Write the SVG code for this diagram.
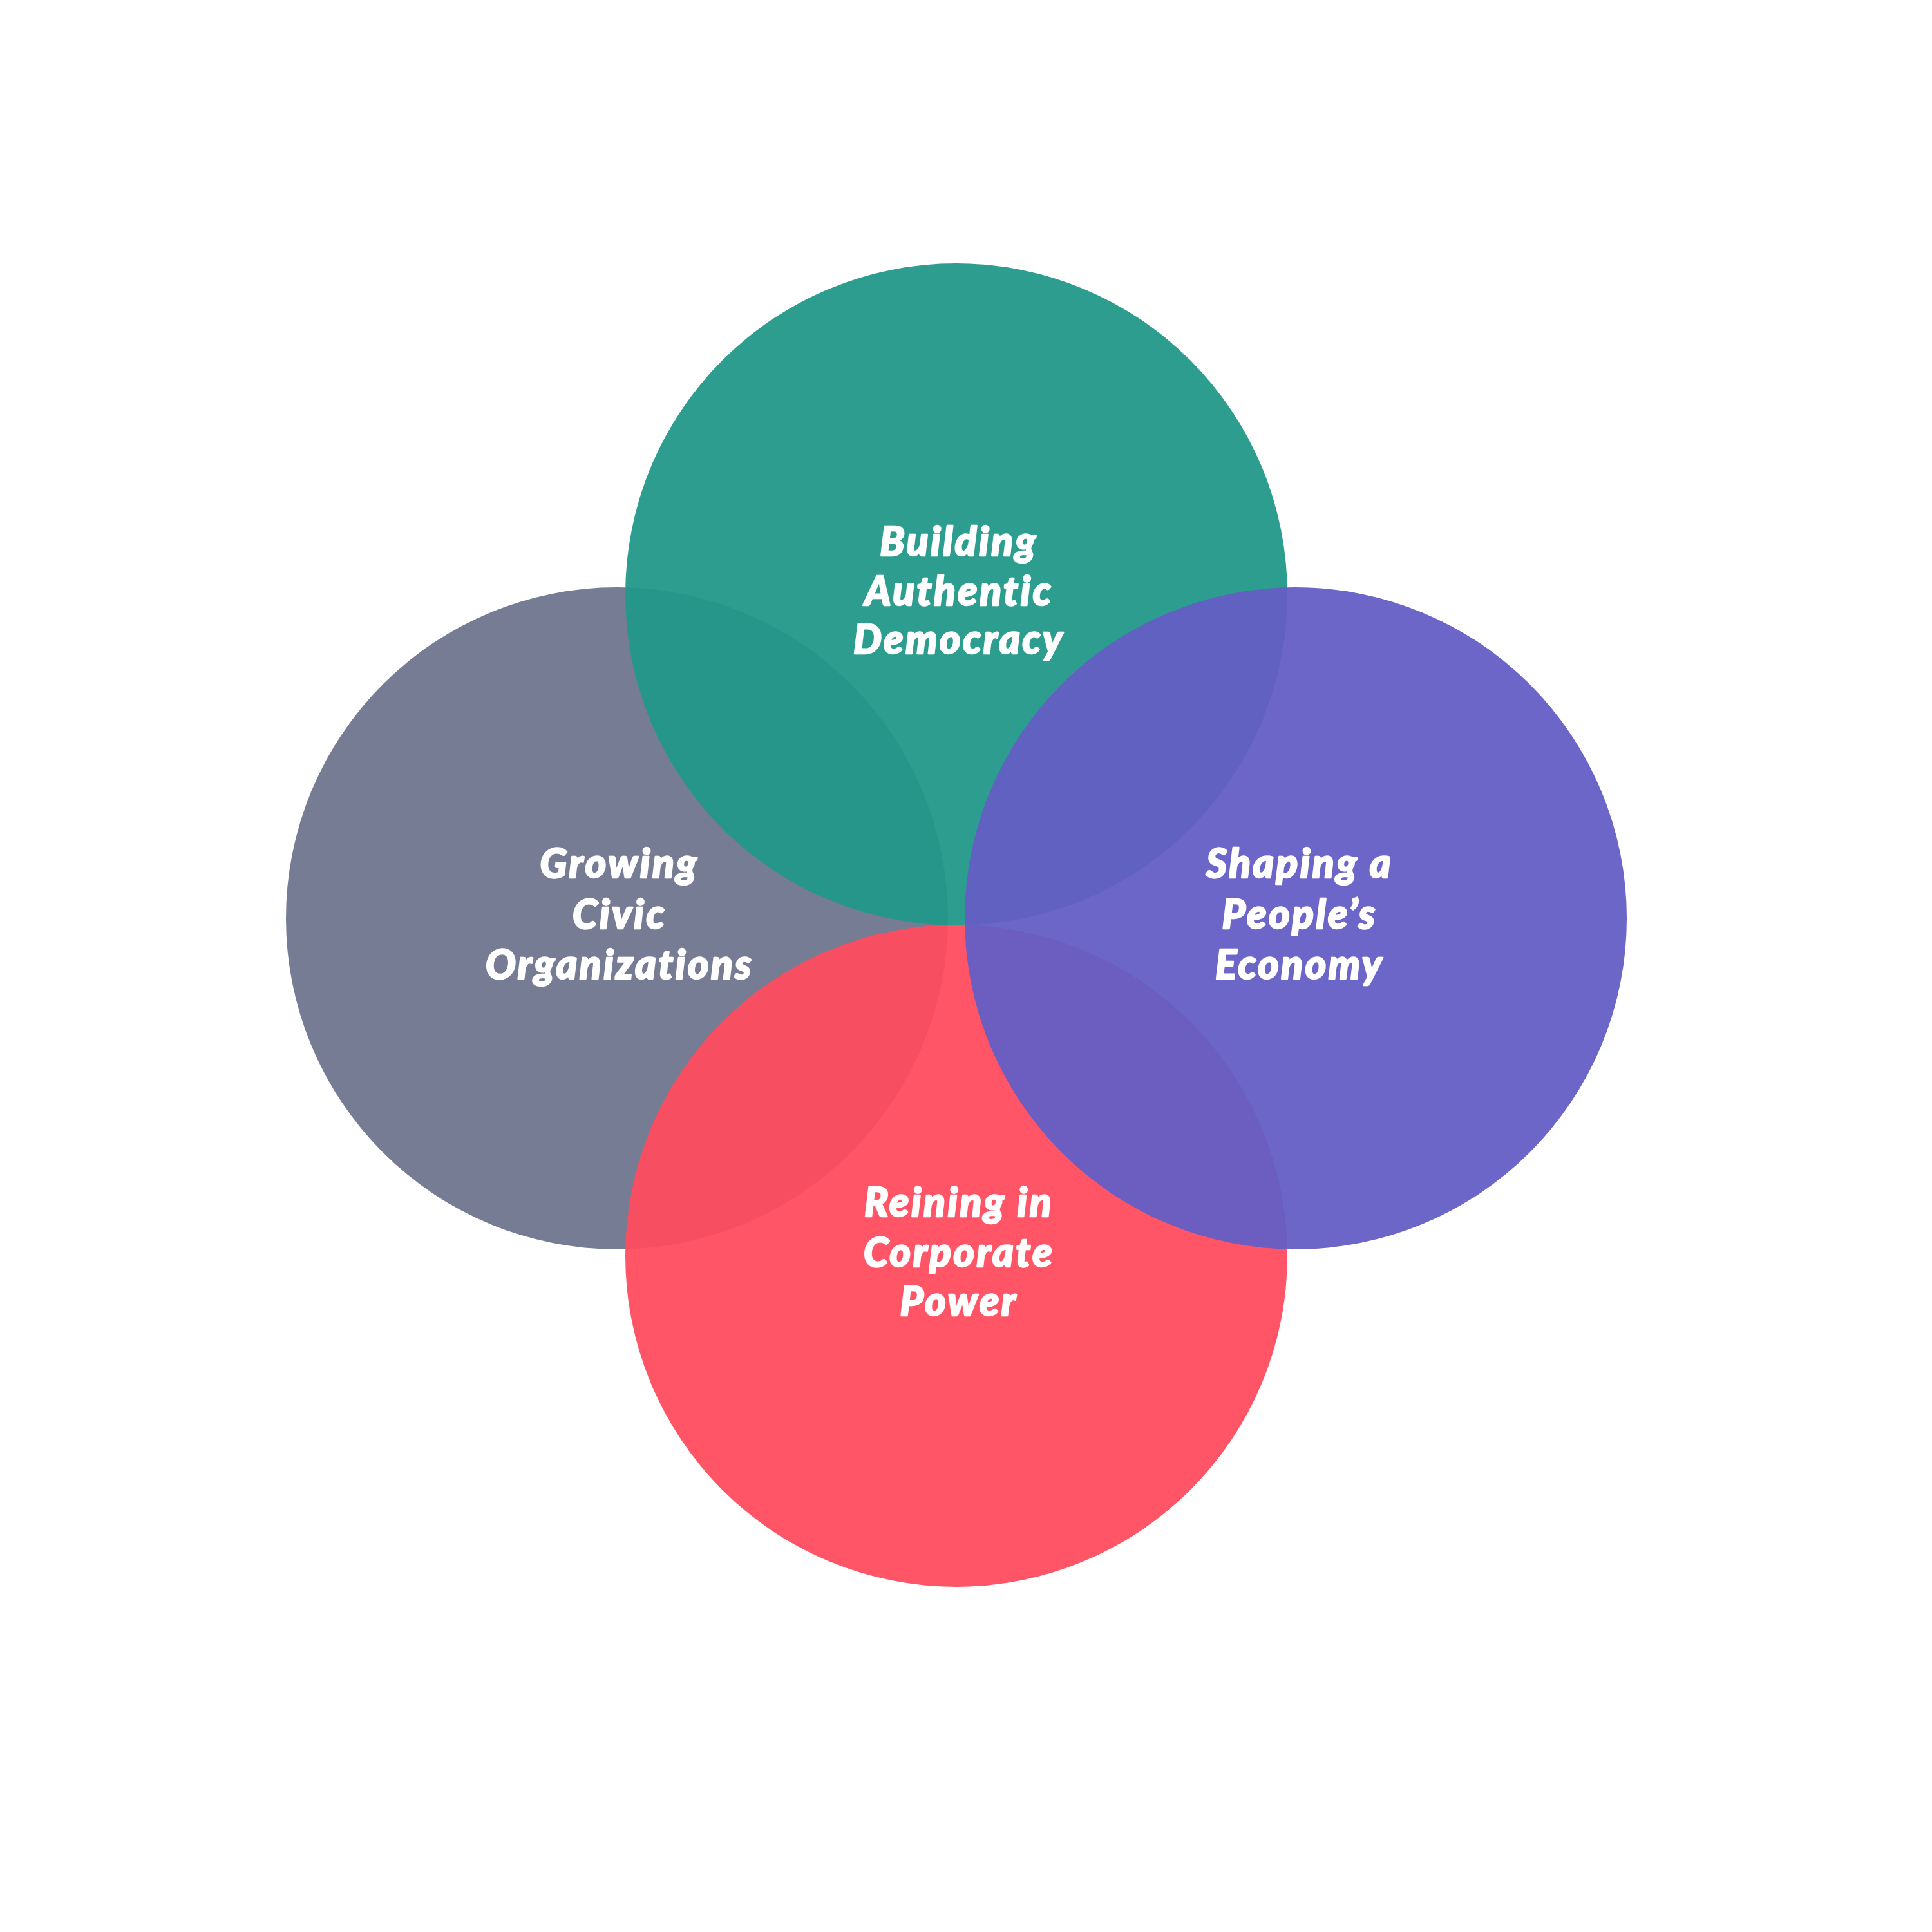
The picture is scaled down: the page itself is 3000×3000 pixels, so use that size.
<svg xmlns="http://www.w3.org/2000/svg" width="3000" height="3000" viewBox="0 0 3000 3000">
<style>
.c{opacity:0.95}
.t{font-family:"Lato","Open Sans","Liberation Sans",sans-serif;font-weight:900;font-style:italic;font-size:62px;letter-spacing:3.5px;fill:#ffffff;stroke:#ffffff;stroke-width:2.5px;stroke-linejoin:round;text-anchor:middle}
</style>
<rect width="3000" height="3000" fill="#ffffff"/>
<g id="civic">
<circle class="c" cx="958" cy="1426" r="514" fill="#70758f"/>
</g>
<g id="democracy">
<circle class="c" cx="1485" cy="923" r="514" fill="#219888"/>
</g>
<g id="corporate">
<circle class="c" cx="1485" cy="1950" r="514" fill="#ff4c5e"/>
</g>
<g id="economy">
<circle class="c" cx="2012" cy="1426" r="514" fill="#645ec5"/>
</g>
<g id="labels">
<text class="t" x="1489" y="863">Building</text>
<text class="t" x="1489" y="940">Authentic</text>
<text class="t" x="1489" y="1015">Democracy</text>
<text class="t" x="962" y="1363">Growing</text>
<text class="t" x="962" y="1442">Civic</text>
<text class="t" x="962" y="1520">Organizations</text>
<text class="t" x="2018" y="1363">Shaping a</text>
<text class="t" x="2018" y="1442">People’s</text>
<text class="t" x="2018" y="1520">Economy</text>
<text class="t" x="1489" y="1889">Reining in</text>
<text class="t" x="1489" y="1967">Corporate</text>
<text class="t" x="1489" y="2043">Power</text>
</g>
<g id="connectors"/>
</svg>
